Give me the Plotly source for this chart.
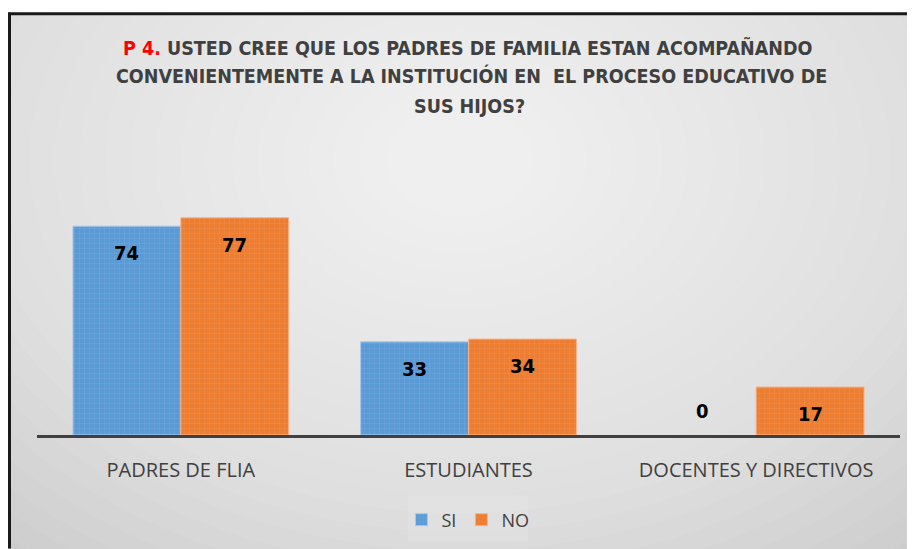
import plotly.graph_objects as go

categorias = ["PADRES DE FLIA", "ESTUDIANTES", "DOCENTES Y DIRECTIVOS"]
si = [74, 33, 0]
no = [77, 34, 17]
titulo = ["P 4.", "USTED CREE QUE LOS PADRES DE FAMILIA ESTAN ACOMPAÑANDO",
          "CONVENIENTEMENTE A LA INSTITUCIÓN EN  EL PROCESO EDUCATIVO DE",
          "SUS HIJOS?"]

# la pagina pone el grafico en (8, 8)
W, H = 907, 541
L, R, T, B = 29, 15, 173, 113
pw, ph = W - L - R, H - T - B


def px(x):
    # x de la pagina -> paper
    return (x - 8 - L) / pw


def py(y):
    # y de la pagina -> paper
    return (H - B - (y - 8)) / ph


fig = go.Figure()
fig.add_trace(go.Bar(x=categorias, y=si, name="SI",
                     marker=dict(color="#5b9bd5",
                                 line=dict(color="#a9c8ea", width=[1 if v > 0 else 0 for v in si]),
                                 pattern=dict(shape="+", fgcolor="#8dbbe6", size=5, solidity=0.15))))
fig.add_trace(go.Bar(x=categorias, y=no, name="NO",
                     marker=dict(color="#ed7d31",
                                 line=dict(color="#f5b48c", width=[1 if v > 0 else 0 for v in no]),
                                 pattern=dict(shape="+", fgcolor="#f4a571", size=5, solidity=0.15))))

# etiquetas de datos
for serie, dx in [(si, -54), (no, 54)]:
    for c, v in zip(categorias, serie):
        fig.add_annotation(x=c, y=v, text="<b>%d</b>" % v, showarrow=False,
                           xshift=dx, yshift=-27 if v > 0 else 24,
                           font=dict(family="DejaVu Sans Condensed, DejaVu Sans, sans-serif", size=20, color="black"))

# fondo con degradado
shapes = []
n = 30
for i in range(n):
    f = 1 - i / n
    cx, cy = 460, 160
    rx, ry = 760 * f, 560 * f
    shapes.append(dict(type="circle", xref="paper", yref="paper", layer="below",
                       x0=px(cx - rx), x1=px(cx + rx), y0=py(cy + ry), y1=py(cy - ry),
                       fillcolor="white", opacity=0.058, line=dict(width=0)))
# blanco arriba del borde
shapes.append(dict(type="rect", xref="paper", yref="paper", x0=px(0), x1=px(920), y0=py(0), y1=py(12),
                   fillcolor="white", line=dict(width=0)))
# borde
shapes.append(dict(type="line", xref="paper", yref="paper", x0=px(8), x1=px(920), y0=py(13), y1=py(13),
                   line=dict(color="#1a1a1a", width=3)))
shapes.append(dict(type="line", xref="paper", yref="paper", x0=px(9.5), x1=px(9.5), y0=py(12), y1=py(550),
                   line=dict(color="#1a1a1a", width=3)))
# fondo de la leyenda
shapes.append(dict(type="rect", xref="paper", yref="paper", x0=px(408), x1=px(528), y0=py(497), y1=py(543),
                   fillcolor="#f0f0f0", opacity=0.2, line=dict(width=0), layer="below"))

# titulo
tf = "DejaVu Sans Condensed, DejaVu Sans, sans-serif"
lineas = [("<b><span style='color:#ff0000'>%s</span> %s</b>" % (titulo[0], titulo[1]), 468, 47),
          ("<b>%s</b>" % titulo[2], 471, 76),
          ("<b>%s</b>" % titulo[3], 470, 106)]
for txt, x, y in lineas:
    fig.add_annotation(xref="paper", yref="paper", x=px(x), y=py(y), showarrow=False,
                       xanchor="center", yanchor="middle", text=txt,
                       font=dict(family=tf, size=19.5, color="#404040"))

fig.update_layout(
    width=W, height=H, margin=dict(l=L, r=R, t=T, b=B),
    paper_bgcolor="#c4c4c4", plot_bgcolor="rgba(0,0,0,0)",
    barmode="group", bargap=0.25, bargroupgap=0,
    shapes=shapes,
    showlegend=True,
    legend=dict(orientation="h", x=px(468), xanchor="center", y=py(520), yanchor="middle",
                font=dict(family="Open Sans, sans-serif", size=18, color="#404040"),
                bgcolor="rgba(0,0,0,0)", itemwidth=30, traceorder="normal"),
    xaxis=dict(showline=True, linecolor="#404040", linewidth=3, ticks="", ticklabelstandoff=15,
               tickfont=dict(family="Open Sans, sans-serif", size=20, color="#404040")),
    yaxis=dict(range=[0, 90], visible=False, showgrid=False),
)

fig.write_html("out.html")
